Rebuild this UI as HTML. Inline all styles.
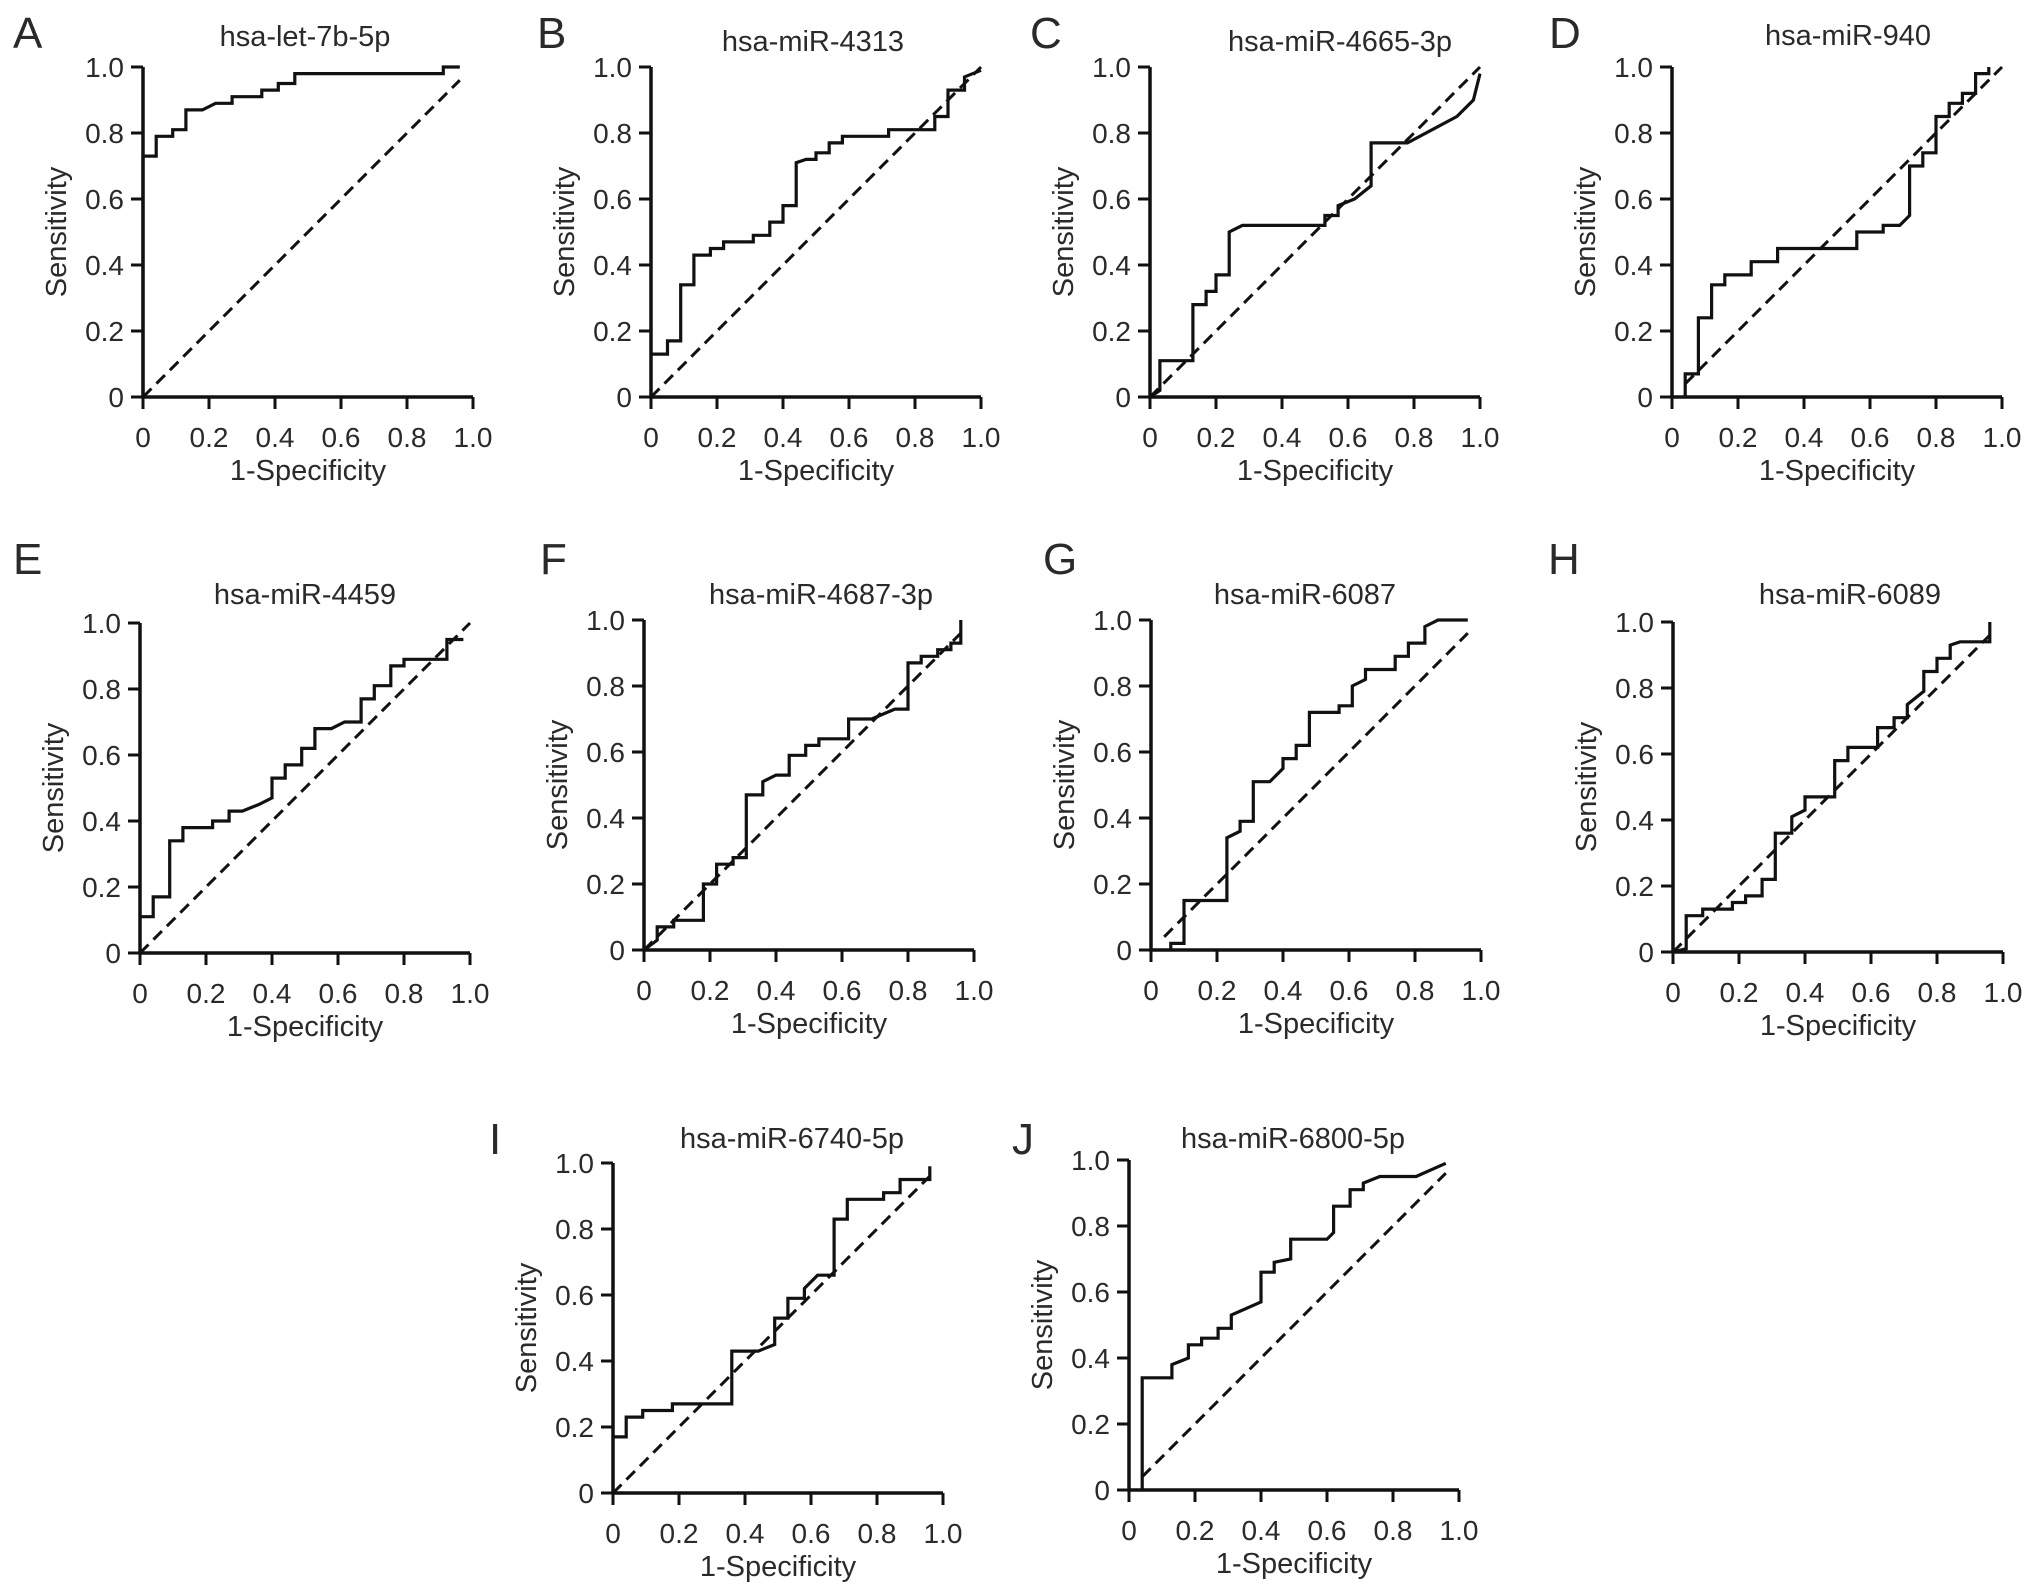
<!DOCTYPE html>
<html><head><meta charset="utf-8"><style>
html,body{margin:0;padding:0;background:#fff;}
svg{display:block;}
text{font-family:"Liberation Sans",Arial,sans-serif;fill:#2a2a2a;}
</style></head><body>
<svg id="s" width="2032" height="1592" viewBox="0 0 2032 1592" xmlns="http://www.w3.org/2000/svg"></svg>
<script>
const panels=[
{L:"A",t:"hsa-let-7b-5p",x0:143,y0:397,lx:13,ly:48,tx:305,ty:46,
d:[[0,0],[0,.73],[.04,.73],[.04,.79],[.09,.79],[.09,.81],[.13,.81],[.13,.87],[.18,.87],[.22,.89],[.27,.89],[.27,.91],[.36,.91],[.36,.93],[.41,.93],[.41,.95],[.46,.95],[.46,.98],[.91,.98],[.91,1],[.96,1]],dg:[0,0,.96,.96]},
{L:"B",t:"hsa-miR-4313",x0:651,y0:397,lx:537,ly:48,tx:813,ty:51,
d:[[0,.13],[.05,.13],[.05,.17],[.09,.17],[.09,.34],[.13,.34],[.13,.43],[.18,.43],[.18,.45],[.22,.45],[.22,.47],[.31,.47],[.31,.49],[.36,.49],[.36,.53],[.4,.53],[.4,.58],[.44,.58],[.44,.71],[.47,.72],[.5,.72],[.5,.74],[.54,.74],[.54,.77],[.58,.77],[.58,.79],[.72,.79],[.72,.81],[.86,.81],[.86,.85],[.9,.85],[.9,.93],[.95,.93],[.95,.97],[1,.99]],dg:[0,0,1,1]},
{L:"C",t:"hsa-miR-4665-3p",x0:1150,y0:397,lx:1030,ly:48,tx:1340,ty:51,
d:[[0,0],[.03,.02],[.03,.11],[.13,.11],[.13,.28],[.17,.28],[.17,.32],[.2,.32],[.2,.37],[.24,.37],[.24,.5],[.28,.52],[.53,.52],[.53,.55],[.57,.55],[.57,.58],[.62,.6],[.67,.64],[.67,.77],[.78,.77],[.93,.85],[.98,.9],[1,.98]],dg:[0,0,1,1]},
{L:"D",t:"hsa-miR-940",x0:1672,y0:397,lx:1549,ly:48,tx:1848,ty:45,
d:[[.04,0],[.04,.07],[.08,.07],[.08,.24],[.12,.24],[.12,.34],[.16,.34],[.16,.37],[.24,.37],[.24,.41],[.32,.41],[.32,.45],[.56,.45],[.56,.5],[.64,.5],[.64,.52],[.69,.52],[.72,.55],[.72,.7],[.76,.7],[.76,.74],[.8,.74],[.8,.85],[.84,.85],[.84,.89],[.88,.89],[.88,.92],[.92,.92],[.92,.98],[.96,.98],[.96,1]],dg:[.04,.04,1,1]},
{L:"E",t:"hsa-miR-4459",x0:140,y0:953,lx:13,ly:574,tx:305,ty:604,
d:[[0,.11],[.04,.11],[.04,.17],[.09,.17],[.09,.34],[.13,.34],[.13,.38],[.22,.38],[.22,.4],[.27,.4],[.27,.43],[.31,.43],[.36,.45],[.4,.47],[.4,.53],[.44,.53],[.44,.57],[.49,.57],[.49,.62],[.53,.62],[.53,.68],[.58,.68],[.62,.7],[.67,.7],[.67,.77],[.71,.77],[.71,.81],[.76,.81],[.76,.87],[.8,.87],[.8,.89],[.93,.89],[.93,.95],[.98,.95]],dg:[0,0,1,1]},
{L:"F",t:"hsa-miR-4687-3p",x0:644,y0:950,lx:540,ly:574,tx:821,ty:604,
d:[[0,0],[.04,.03],[.04,.07],[.09,.07],[.09,.09],[.18,.09],[.18,.2],[.22,.2],[.22,.26],[.27,.26],[.27,.28],[.31,.28],[.31,.47],[.36,.47],[.36,.51],[.4,.53],[.44,.53],[.44,.59],[.49,.59],[.49,.62],[.53,.62],[.53,.64],[.62,.64],[.62,.7],[.69,.7],[.76,.73],[.8,.73],[.8,.87],[.84,.87],[.84,.89],[.89,.89],[.89,.91],[.93,.91],[.93,.93],[.96,.93],[.96,1]],dg:[0,0,.96,.96]},
{L:"G",t:"hsa-miR-6087",x0:1151,y0:950,lx:1043,ly:574,tx:1305,ty:604,
d:[[.06,0],[.06,.02],[.1,.02],[.1,.15],[.23,.15],[.23,.34],[.27,.36],[.27,.39],[.31,.39],[.31,.51],[.36,.51],[.4,.55],[.4,.58],[.44,.58],[.44,.62],[.48,.62],[.48,.72],[.57,.72],[.57,.74],[.61,.74],[.61,.8],[.65,.82],[.65,.85],[.74,.85],[.74,.89],[.78,.89],[.78,.93],[.83,.93],[.83,.98],[.87,1],[.96,1]],dg:[.04,.04,.96,.96]},
{L:"H",t:"hsa-miR-6089",x0:1673,y0:952,lx:1548,ly:574,tx:1850,ty:604,
d:[[0,0],[.04,.01],[.04,.11],[.09,.11],[.09,.13],[.18,.13],[.18,.15],[.22,.15],[.22,.17],[.27,.17],[.27,.22],[.31,.22],[.31,.36],[.36,.36],[.36,.41],[.4,.43],[.4,.47],[.49,.47],[.49,.58],[.53,.58],[.53,.62],[.62,.62],[.62,.68],[.67,.68],[.67,.71],[.71,.71],[.71,.75],[.76,.79],[.76,.85],[.8,.85],[.8,.89],[.84,.89],[.84,.93],[.87,.94],[.96,.94],[.96,1]],dg:[0,0,.96,.96]},
{L:"I",t:"hsa-miR-6740-5p",x0:613,y0:1493,lx:489,ly:1154,tx:792,ty:1148,
d:[[0,.17],[.04,.17],[.04,.23],[.09,.23],[.09,.25],[.18,.25],[.18,.27],[.36,.27],[.36,.43],[.44,.43],[.49,.45],[.49,.53],[.53,.53],[.53,.59],[.58,.59],[.58,.62],[.62,.66],[.67,.66],[.67,.83],[.71,.83],[.71,.89],[.82,.89],[.82,.91],[.87,.91],[.87,.95],[.96,.95],[.96,.99]],dg:[0,0,.96,.96]},
{L:"J",t:"hsa-miR-6800-5p",x0:1129,y0:1490,lx:1012,ly:1154,tx:1293,ty:1148,
d:[[.04,0],[.04,.34],[.13,.34],[.13,.38],[.18,.4],[.18,.44],[.22,.44],[.22,.46],[.27,.46],[.27,.49],[.31,.49],[.31,.53],[.4,.57],[.4,.66],[.44,.66],[.44,.69],[.49,.7],[.49,.76],[.6,.76],[.62,.78],[.62,.86],[.67,.86],[.67,.91],[.71,.91],[.71,.93],[.76,.95],[.87,.95],[.96,.99]],dg:[.04,.04,.96,.96]}
];
const W=330,H=330;let o="";
for(const p of panels){
 const X=v=>p.x0+v*W, Y=v=>p.y0-v*H;
 o+=`<text x="${p.lx}" y="${p.ly}" font-size="44">${p.L}</text>`;
 o+=`<text x="${p.tx}" y="${p.ty}" font-size="29" text-anchor="middle">${p.t}</text>`;
 o+=`<path d="M${p.x0} ${p.y0-H}V${p.y0}H${p.x0+W}" fill="none" stroke="#111" stroke-width="3.5"/>`;
 for(let i=0;i<=5;i++){
  const v=i/5,lab=i==0?"0":(i==5?"1.0":v.toFixed(1));
  o+=`<line x1="${p.x0-12}" x2="${p.x0}" y1="${Y(v)}" y2="${Y(v)}" stroke="#111" stroke-width="3"/>`;
  o+=`<line x1="${X(v)}" x2="${X(v)}" y1="${p.y0}" y2="${p.y0+12}" stroke="#111" stroke-width="3"/>`;
  o+=`<text x="${p.x0-19}" y="${Y(v)+10}" font-size="28" text-anchor="end">${lab}</text>`;
  o+=`<text x="${X(v)}" y="${p.y0+50}" font-size="28" text-anchor="middle">${lab}</text>`;
 }
 o+=`<text x="${p.x0+W/2}" y="${p.y0+83}" font-size="29" text-anchor="middle">1-Specificity</text>`;
 o+=`<text transform="translate(${p.x0-77},${p.y0-H/2}) rotate(-90)" font-size="29" text-anchor="middle">Sensitivity</text>`;
 const g=p.dg;
 o+=`<line x1="${X(g[0])}" y1="${Y(g[1])}" x2="${X(g[2])}" y2="${Y(g[3])}" stroke="#111" stroke-width="3" stroke-dasharray="12,7"/>`;
 o+=`<polyline points="${p.d.map(q=>X(q[0]).toFixed(1)+","+Y(q[1]).toFixed(1)).join(" ")}" fill="none" stroke="#111" stroke-width="3.2" stroke-linejoin="miter"/>`;
}
document.getElementById("s").innerHTML=o;
</script>
</body></html>
